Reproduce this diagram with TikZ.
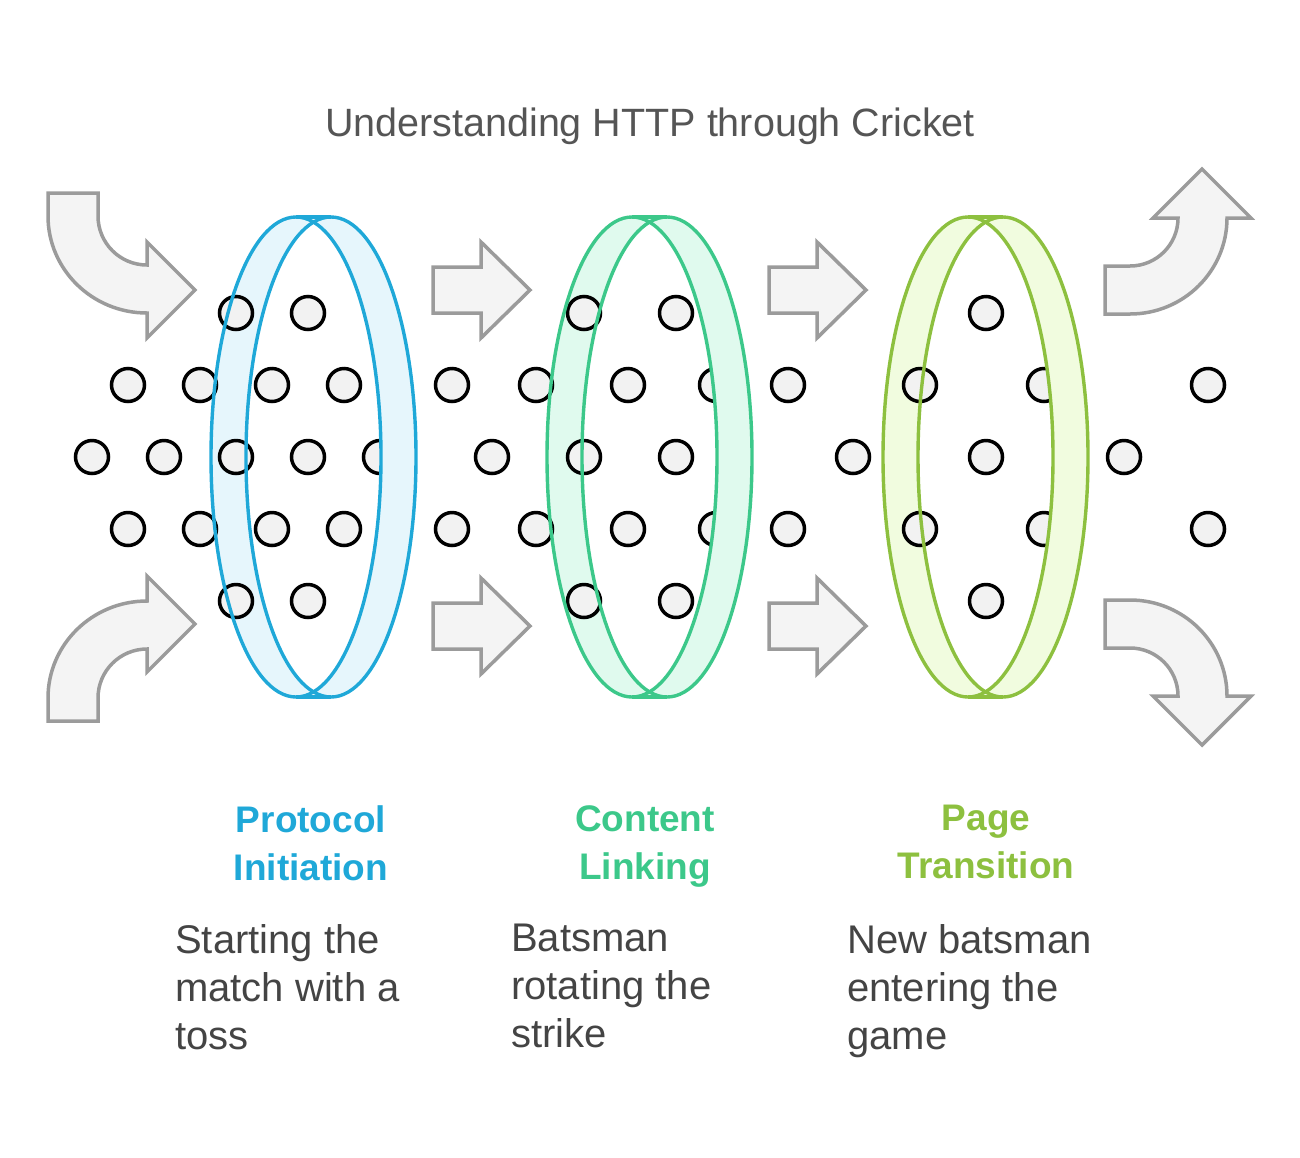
\documentclass[tikz,border=0pt]{standalone}
\usepackage{fontspec}
\setmainfont{Liberation Sans}
\definecolor{blueline}{HTML}{1FA8D8}
\definecolor{bluefill}{HTML}{E6F6FC}
\definecolor{greenline}{HTML}{3CC88A}
\definecolor{greenfill}{HTML}{E0FAEE}
\definecolor{limeline}{HTML}{8DC03F}
\definecolor{limefill}{HTML}{F1FCDF}
\definecolor{arrowgray}{HTML}{9B9B9B}
\definecolor{arrowfill}{HTML}{F4F4F4}
\definecolor{dotfill}{HTML}{F2F2F2}
\definecolor{titlegray}{HTML}{555555}
\definecolor{textgray}{HTML}{444444}
\tikzset{
  flow/.style={draw=arrowgray, fill=arrowfill, line width=3.5pt, line join=miter},
  dot/.style={draw=black, fill=dotfill, line width=3.5pt},
  ringline/.style={line width=3.4pt},
  stagelabel/.style={anchor=north, align=center, inner sep=0pt, font=\fontsize{37}{48}\selectfont\bfseries},
  stagetext/.style={anchor=north west, align=left, inner sep=0pt, text=textgray, font=\fontsize{40}{48}\selectfont}
}

\begin{document}
\begin{tikzpicture}[x=1pt,y=-1pt]
\useasboundingbox (0,0) rectangle (1300,1157);

\node (title) [anchor=base, text=titlegray, font=\fontsize{39.5}{48}\selectfont] at (650,136) {Understanding HTTP through Cricket};

% curved arrows in
\filldraw [flow] (48,193) -- (98,193) -- (98,216) arc [start angle=180, end angle=90, radius=49]
  -- (147,242) -- (195,290) -- (147,338) -- (147,313) arc [start angle=90, end angle=180, x radius=99, y radius=97] -- cycle;
\filldraw [flow] (48,721) -- (98,721) -- (98,698) arc [start angle=180, end angle=270, radius=49]
  -- (147,672) -- (195,624) -- (147,576) -- (147,601) arc [start angle=270, end angle=180, x radius=99, y radius=97] -- cycle;

% straight arrows between rings
\foreach \sx in {433,769}
  \foreach \sy in {290,626}
    \filldraw [flow] (\sx,\sy-23) -- ++(48,0) -- ++(0,-25) -- ++(49,48) -- ++(-49,48) -- ++(0,-25) -- ++(-48,0) -- cycle;

% curved arrows out
\filldraw [flow] (1105,266) -- (1130,266) arc [start angle=90, end angle=0, radius=48]
  -- (1153,218) -- (1202,169) -- (1251,218) -- (1227,218) arc [start angle=0, end angle=90, x radius=97, y radius=96] -- (1105,314) -- cycle;
\filldraw [flow] (1105,648) -- (1130,648) arc [start angle=270, end angle=360, radius=48]
  -- (1153,696) -- (1202,745) -- (1251,696) -- (1227,696) arc [start angle=0, end angle=-90, x radius=97, y radius=96] -- (1105,600) -- cycle;

% back of the rings
\foreach \ax/\bx/\fl in {296/331/bluefill, 632/667/greenfill, 968/1003/limefill}{
  \fill [fill=\fl] (\ax,457) ellipse [x radius=85, y radius=240];
  \fill [fill=\fl] (\bx,457) ellipse [x radius=85, y radius=240];
  \fill [fill=\fl] (\ax,217) rectangle (\bx,697);
  \begin{scope}
    \clip (\ax,457) ellipse [x radius=85, y radius=240];
    \fill [white] (\bx,457) ellipse [x radius=85, y radius=240];
  \end{scope}
}

% the balls
\foreach \x/\y in {236/313, 308/313, 584/313, 676/313, 986/313,
  128/385, 200/385, 272/385, 344/385, 452/385, 536/385, 628/385, 716/385, 788/385, 920/385, 1044/385, 1208/385,
  92/457, 164/457, 236/457, 308/457, 380/457, 492/457, 584/457, 676/457, 853/457, 986/457, 1124/457,
  128/529, 200/529, 272/529, 344/529, 452/529, 536/529, 628/529, 716/529, 788/529, 920/529, 1044/529, 1208/529,
  236/601, 308/601, 584/601, 676/601, 986/601}
  \filldraw [dot] (\x,\y) circle (16.5);

% front of the rings
\foreach \ax/\bx/\ln/\fl in {296/331/blueline/bluefill, 632/667/greenline/greenfill, 968/1003/limeline/limefill}{
  \begin{scope}
    \clip (\bx,457) ellipse [x radius=85, y radius=240];
    \fill [fill=\fl, even odd rule] (\bx,457) ellipse [x radius=85, y radius=240] (\ax,457) ellipse [x radius=85, y radius=240];
  \end{scope}
  \draw [ringline, draw=\ln] (\ax,457) ellipse [x radius=85, y radius=240];
  \draw [ringline, draw=\ln] (\bx,457) ellipse [x radius=85, y radius=240];
  \draw [ringline, draw=\ln] (\ax,217) -- (\bx,217);
  \draw [ringline, draw=\ln] (\ax,697) -- (\bx,697);
}

\node (initiation) [stagelabel, text=blueline] at (311,805) {Protocol\\Initiation};
\node (linking) [stagelabel, text=greenline] at (645,805) {Content\\Linking};
\node (transition) [stagelabel, text=limeline] at (986,805) {Page\\Transition};

\node (toss) [stagetext] at (175,924) {Starting the\\match with a\\toss};
\node (strike) [stagetext] at (511,924) {Batsman\\rotating the\\strike};
\node (newbat) [stagetext] at (847,924) {New batsman\\entering the\\game};
\end{tikzpicture}
\end{document}
